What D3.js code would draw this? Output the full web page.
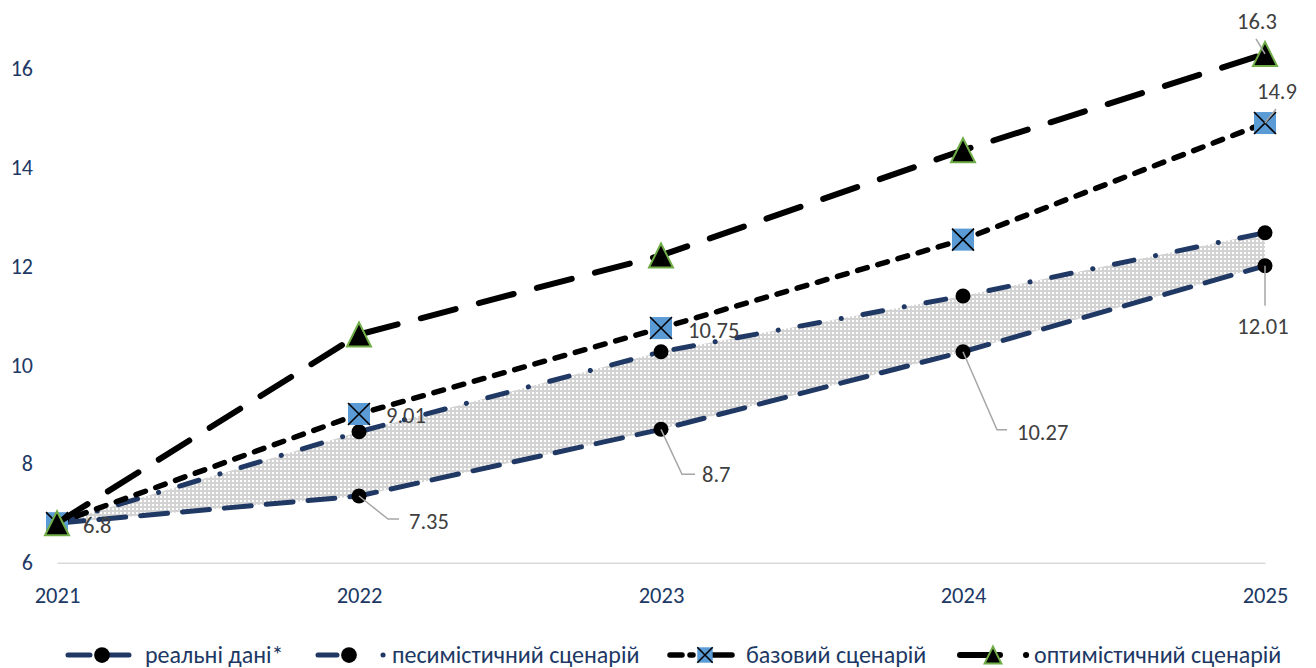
<!DOCTYPE html>
<html>
<head>
<meta charset="utf-8">
<script src="https://cdn.jsdelivr.net/npm/d3@7/dist/d3.min.js"></script>
<style>
  html, body { margin: 0; padding: 0; background: #ffffff; }
  svg { display: block; }
  text { font-family: Carlito, Calibri, "Open Sans", "Noto Sans", sans-serif; }
</style>
</head>
<body>
<svg id="chart" width="1316" height="668"></svg>
<script>
// ---------------- data ----------------
const years = ["2021", "2022", "2023", "2024", "2025"];
const realData = [6.8, 7.35, 8.7, 10.27, 12.01];
const pessimistic = [6.8, 8.65, 10.27, 11.40, 12.68];
const baseline = [6.8, 9.01, 10.75, 12.54, 14.9];
const optimistic = [6.8, 10.62, 12.22, 14.35, 16.3];
const yTicks = [6, 8, 10, 12, 14, 16];
const seriesNames = ["реальні дані*", "песимістичний сценарій", "базовий сценарій", "оптимістичний сценарій"];

// ---------------- setup ----------------
const svg = d3.select("#chart");
const NAVY = "#203864";
const LABEL = "#404040";
const x = d3.scalePoint().domain(years).range([57, 1265]);
const y = d3.scaleLinear().domain([6, 16]).range([562.7, 68.7]);

// pattern for band
const defs = svg.append("defs");
const pat = defs.append("pattern").attr("id", "dots").attr("patternUnits", "userSpaceOnUse")
  .attr("width", 4).attr("height", 4);
pat.append("rect").attr("width", 4).attr("height", 4).attr("fill", "#d3d3d3");
pat.append("rect").attr("x", 0).attr("y", 0).attr("width", 2).attr("height", 2).attr("fill", "#ffffff");

// ---------------- axes ----------------
const xAxis = svg.append("g").attr("transform", `translate(0,${y(6)})`)
  .call(d3.axisBottom(x).tickSize(0).tickSizeOuter(0).tickPadding(24));
xAxis.select(".domain").attr("stroke", "#d9d9d9").attr("stroke-width", 1.5);
xAxis.selectAll("text").attr("fill", NAVY).attr("font-size", 22.5);

const yAxis = svg.append("g").attr("transform", `translate(57,0)`)
  .call(d3.axisLeft(y).tickValues(yTicks).tickSize(0).tickPadding(24).tickFormat(d3.format("d")));
yAxis.select(".domain").remove();
yAxis.selectAll("text").attr("fill", NAVY).attr("font-size", 22);

// ---------------- band ----------------
const area = d3.area()
  .x((d, i) => x(years[i]))
  .y0((d, i) => y(realData[i]))
  .y1((d, i) => y(pessimistic[i]));
svg.append("path").datum(realData).attr("d", area).attr("fill", "url(#dots)");

// ---------------- series ----------------
const line = d3.line().x((d, i) => x(years[i])).y(d => y(d));

const series = [
  { name: seriesNames[0], values: realData, color: NAVY, width: 5, dash: "27,15", marker: "circle" },
  { name: seriesNames[1], values: pessimistic, color: NAVY, width: 5, dash: "20,22,0.1,22", marker: "circle" },
  { name: seriesNames[2], values: baseline, color: "#000000", width: 5.5, dash: "10,11", marker: "square" },
  { name: seriesNames[3], values: optimistic, color: "#000000", width: 6, dash: "36,24", marker: "triangle" }
];

function drawMarker(g, type, cx, cy, scale) {
  const s = scale || 1;
  if (type === "circle") {
    g.append("circle").attr("cx", cx).attr("cy", cy).attr("r", 7.5 * s).attr("fill", "#000");
  } else if (type === "square") {
    const h = 11 * s;
    g.append("rect").attr("x", cx - h).attr("y", cy - h).attr("width", 2 * h).attr("height", 2 * h)
      .attr("fill", "#5b9bd5");
    g.append("path").attr("d", `M${cx - h},${cy - h}L${cx + h},${cy + h}M${cx + h},${cy - h}L${cx - h},${cy + h}`)
      .attr("stroke", "#000").attr("stroke-width", 1.6);
  } else if (type === "triangle") {
    const w = 12 * s, hh = 12 * s;
    g.append("path").attr("d", `M${cx},${cy - hh}L${cx + w},${cy + hh}L${cx - w},${cy + hh}Z`)
      .attr("fill", "#000").attr("stroke", "#70ad47").attr("stroke-width", 2).attr("stroke-linejoin", "miter");
  }
}

series.forEach(s => {
  const g = svg.append("g");
  g.append("path").datum(s.values).attr("d", line)
    .attr("fill", "none").attr("stroke", s.color).attr("stroke-width", s.width)
    .attr("stroke-dasharray", s.dash).attr("stroke-linecap", "round").attr("stroke-linejoin", "round");
  s.values.forEach((v, i) => drawMarker(g, s.marker, x(years[i]), y(v)));
});

// ---------------- data labels ----------------
const labelSpecs = [
  { vals: realData, i: 0, dx: 26, dy: 2, anchor: "start", leader: null },
  { vals: realData, i: 1, dx: 50, dy: 25, anchor: "start", leader: [[0, 0], [29, 23], [40, 23]] },
  { vals: realData, i: 2, dx: 41, dy: 45, anchor: "start", leader: [[0, 0], [21, 45], [34, 45]] },
  { vals: realData, i: 3, dx: 54, dy: 80, anchor: "start", leader: [[0, 0], [34, 78], [44, 78]] },
  { vals: realData, i: 4, dx: -2, dy: 60, anchor: "middle", leader: [[0, 0], [0, 40]] },
  { vals: baseline, i: 1, dx: 27, dy: 1, anchor: "start", leader: null },
  { vals: baseline, i: 2, dx: 27, dy: 2, anchor: "start", leader: null },
  { vals: baseline, i: 4, dx: 12, dy: -32, anchor: "middle", leader: [[0, 0], [11, -14]] },
  { vals: optimistic, i: 4, dx: -8, dy: -33, anchor: "middle", leader: [[0, 0], [-9, -15]] }
];
const lg = svg.append("g");
labelSpecs.forEach(l => {
  const px = x(years[l.i]), py = y(l.vals[l.i]);
  if (l.leader) {
    lg.append("path").attr("d", d3.line()(l.leader.map(p => [px + p[0], py + p[1]])))
      .attr("fill", "none").attr("stroke", "#a6a6a6").attr("stroke-width", 1.5);
  }
  lg.append("text").attr("x", px + l.dx).attr("y", py + l.dy).attr("dy", "0.35em")
    .attr("text-anchor", l.anchor).attr("fill", LABEL).attr("font-size", 22.5)
    .text(String(l.vals[l.i]));
});

// ---------------- legend ----------------
const legY = 655;
const legendItems = [
  { s: series[0], x0: 68, x1: 129, dash: "22,17", mx: 102, tx: 145 },
  { s: series[1], x0: 318, x1: 386, dash: "19,46,0.1,100", mx: 349, tx: 392 },
  { s: series[2], x0: 670, x1: 732, dash: "12,8,3,8,100", mx: 705, tx: 746 },
  { s: series[3], x0: 960, x1: 1029, dash: "40,26,0.1,100", mx: 993, tx: 1034 }
];
legendItems.forEach((it, k) => {
  const g = svg.append("g");
  g.append("line").attr("x1", it.x0).attr("x2", it.x1).attr("y1", legY).attr("y2", legY)
    .attr("stroke", it.s.color).attr("stroke-width", it.s.width).attr("stroke-dasharray", it.dash)
    .attr("stroke-linecap", "round");
  drawMarker(g, it.s.marker, it.mx, legY, it.s.marker === "circle" ? 1.05 : 0.7);
  g.append("text").attr("x", it.tx).attr("y", legY).attr("dy", "0.35em").attr("fill", NAVY)
    .attr("font-size", 24).text(seriesNames[k]);
});
</script>
</body>
</html>
